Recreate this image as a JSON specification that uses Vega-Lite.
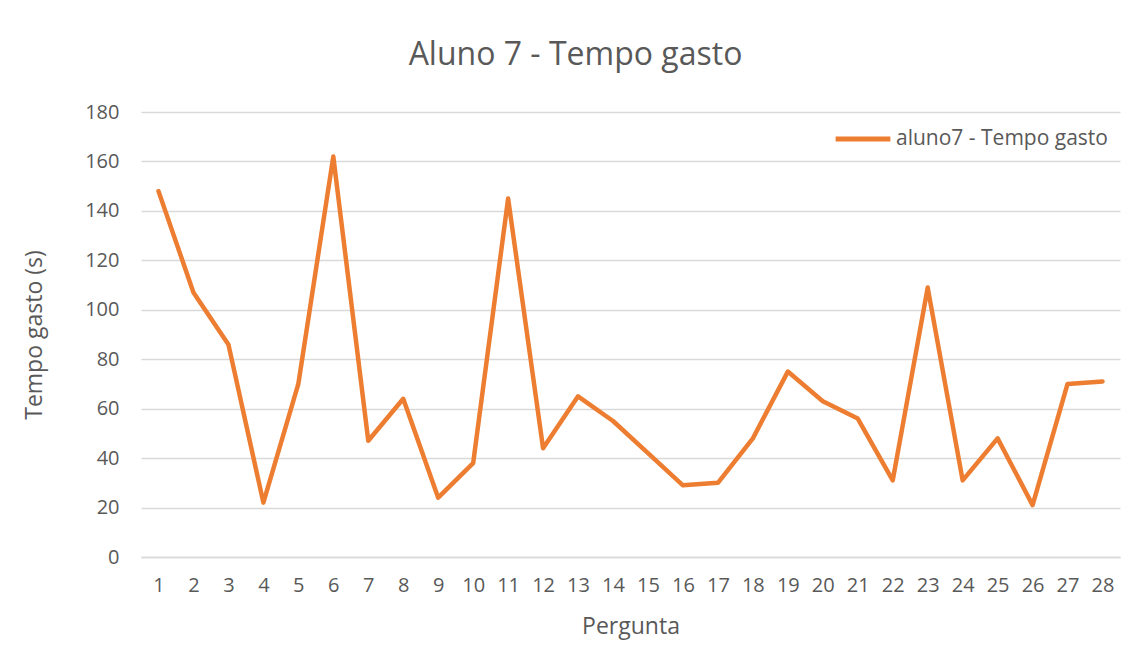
{
  "$schema": "https://vega.github.io/schema/vega-lite/v6.json",
  "width": 979,
  "height": 445,
  "autosize": {"type": "none"},
  "padding": {"left": 141, "top": 112, "right": 11, "bottom": 110},
  "background": "white",
  "title": {
    "text": "Aluno 7 - Tempo gasto",
    "font": "Open Sans",
    "fontSize": 32,
    "fontWeight": "normal",
    "color": "#595959",
    "anchor": "middle",
    "offset": 30,
    "dx": -55
  },
  "data": {
    "values": [
      {"pergunta": 1, "tempo": 148, "serie": "aluno7 - Tempo gasto"},
      {"pergunta": 2, "tempo": 107, "serie": "aluno7 - Tempo gasto"},
      {"pergunta": 3, "tempo": 86, "serie": "aluno7 - Tempo gasto"},
      {"pergunta": 4, "tempo": 22, "serie": "aluno7 - Tempo gasto"},
      {"pergunta": 5, "tempo": 70, "serie": "aluno7 - Tempo gasto"},
      {"pergunta": 6, "tempo": 162, "serie": "aluno7 - Tempo gasto"},
      {"pergunta": 7, "tempo": 47, "serie": "aluno7 - Tempo gasto"},
      {"pergunta": 8, "tempo": 64, "serie": "aluno7 - Tempo gasto"},
      {"pergunta": 9, "tempo": 24, "serie": "aluno7 - Tempo gasto"},
      {"pergunta": 10, "tempo": 38, "serie": "aluno7 - Tempo gasto"},
      {"pergunta": 11, "tempo": 145, "serie": "aluno7 - Tempo gasto"},
      {"pergunta": 12, "tempo": 44, "serie": "aluno7 - Tempo gasto"},
      {"pergunta": 13, "tempo": 65, "serie": "aluno7 - Tempo gasto"},
      {"pergunta": 14, "tempo": 55, "serie": "aluno7 - Tempo gasto"},
      {"pergunta": 15, "tempo": 42, "serie": "aluno7 - Tempo gasto"},
      {"pergunta": 16, "tempo": 29, "serie": "aluno7 - Tempo gasto"},
      {"pergunta": 17, "tempo": 30, "serie": "aluno7 - Tempo gasto"},
      {"pergunta": 18, "tempo": 48, "serie": "aluno7 - Tempo gasto"},
      {"pergunta": 19, "tempo": 75, "serie": "aluno7 - Tempo gasto"},
      {"pergunta": 20, "tempo": 63, "serie": "aluno7 - Tempo gasto"},
      {"pergunta": 21, "tempo": 56, "serie": "aluno7 - Tempo gasto"},
      {"pergunta": 22, "tempo": 31, "serie": "aluno7 - Tempo gasto"},
      {"pergunta": 23, "tempo": 109, "serie": "aluno7 - Tempo gasto"},
      {"pergunta": 24, "tempo": 31, "serie": "aluno7 - Tempo gasto"},
      {"pergunta": 25, "tempo": 48, "serie": "aluno7 - Tempo gasto"},
      {"pergunta": 26, "tempo": 21, "serie": "aluno7 - Tempo gasto"},
      {"pergunta": 27, "tempo": 70, "serie": "aluno7 - Tempo gasto"},
      {"pergunta": 28, "tempo": 71, "serie": "aluno7 - Tempo gasto"}
    ]
  },
  "mark": {"type": "line", "strokeWidth": 4.5, "strokeCap": "round", "strokeJoin": "round"},
  "encoding": {
    "x": {
      "field": "pergunta",
      "type": "ordinal",
      "scale": {"type": "point", "padding": 0.5},
      "axis": {
        "title": "Pergunta",
        "labelAngle": 0,
        "labelFontSize": 20,
        "ticks": false,
        "grid": false,
        "domainColor": "#d9d9d9",
        "domainWidth": 1.5,
        "labelPadding": 18,
        "titlePadding": 20
      }
    },
    "y": {
      "field": "tempo",
      "type": "quantitative",
      "scale": {"domain": [0, 180]},
      "axis": {
        "title": "Tempo gasto (s)",
        "values": [0, 20, 40, 60, 80, 100, 120, 140, 160, 180],
        "labelFontSize": 20,
        "ticks": false,
        "domain": false,
        "gridColor": "#d9d9d9",
        "gridWidth": 1.5,
        "labelPadding": 22,
        "titlePadding": 38
      }
    },
    "color": {
      "field": "serie",
      "type": "nominal",
      "scale": {"range": ["#ED7D31"]},
      "legend": {
        "title": null,
        "orient": "none",
        "legendX": 692,
        "legendY": -3,
        "symbolType": "stroke",
        "symbolSize": 3000,
        "symbolStrokeWidth": 5,
        "labelFontSize": 21,
        "labelOffset": 3,
        "labelLimit": 500
      }
    }
  },
  "config": {
    "view": {"stroke": null},
    "font": "Open Sans",
    "axis": {
      "labelFont": "Open Sans",
      "titleFont": "Open Sans",
      "labelFontSize": 20,
      "titleFontSize": 23,
      "titleFontWeight": "normal",
      "labelColor": "#595959",
      "titleColor": "#595959"
    },
    "legend": {
      "labelFont": "Open Sans",
      "labelColor": "#595959"
    }
  }
}
